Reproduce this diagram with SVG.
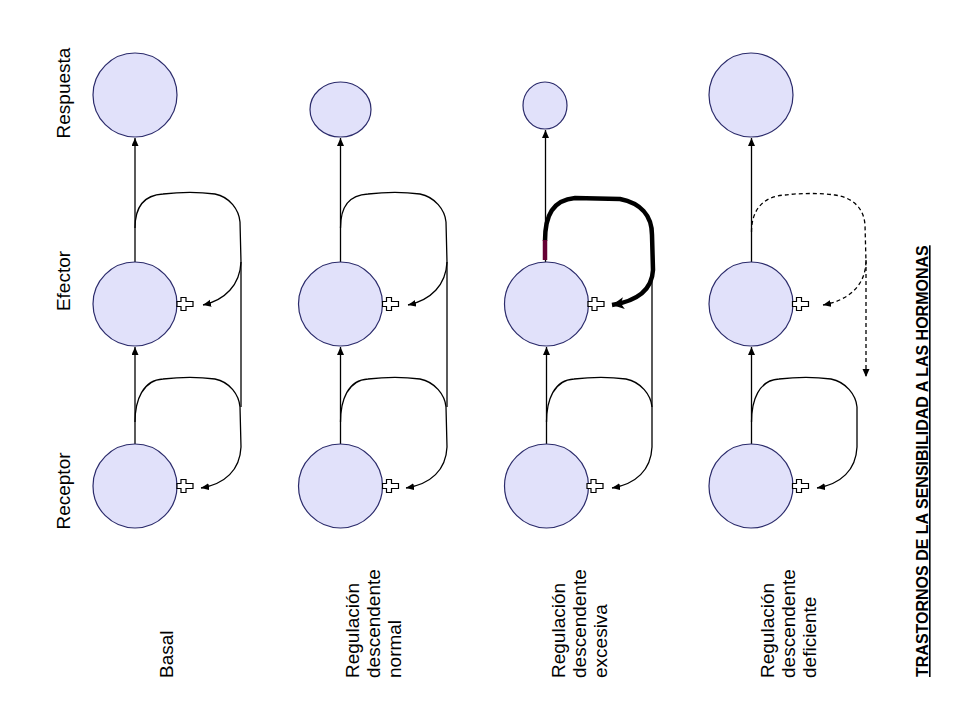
<svg xmlns="http://www.w3.org/2000/svg" width="960" height="720" viewBox="0 0 960 720">
<style>
.node{fill:#E1E1FA;stroke:#2B2B6B;stroke-width:1.2}
.lbl{font-family:"Liberation Sans",Arial,sans-serif;font-size:19px;fill:#000}
.title{font-family:"Liberation Sans",Arial,sans-serif;font-size:16px;font-weight:bold;fill:#000;text-decoration:underline}
.ln{fill:none;stroke:#000;stroke-width:1.3}
.dash{fill:none;stroke:#000;stroke-width:1.3;stroke-dasharray:4,3}
.thick{fill:none;stroke:#000;stroke-width:4.5;stroke-linejoin:round}
.plus{fill:#fff;stroke:#000;stroke-width:1.2}
</style>
<defs>
<marker id="ah" markerUnits="userSpaceOnUse" markerWidth="9" markerHeight="8" refX="8" refY="3.5" orient="auto">
<path d="M0,0 L8,3.5 L0,7 Z" fill="#000"/>
</marker>
<marker id="ahb" markerUnits="userSpaceOnUse" markerWidth="14" markerHeight="14" refX="12" refY="6" orient="auto">
<path d="M0,0 L12,6 L0,12 L3,6 Z" fill="#000"/>
</marker>
<path id="plusShape" d="M-2.5,-6.5 H2.5 V-2.5 H9.5 V2.5 H2.5 V6.5 H-2.5 V2.5 H-6.5 V-2.5 H-2.5 Z"/>
</defs>
<rect width="960" height="720" fill="#fff"/>

<g id="labels-axis">
<text class="lbl" text-anchor="middle" transform="translate(70,93) rotate(-90)">Respuesta</text>
<text class="lbl" text-anchor="middle" transform="translate(70,281) rotate(-90)">Efector</text>
<text class="lbl" text-anchor="middle" transform="translate(70,491) rotate(-90)">Receptor</text>
</g>

<g id="connectors">
<!-- column 1 -->
<path class="ln" d="M135,262 V138" marker-end="url(#ah)"/>
<path class="ln" d="M135,444 V347" marker-end="url(#ah)"/>
<path class="ln" d="M135,228 C135,205 145,195 163,194 C180,192 200,192 215,194 C230,197 239,210 240,222 L241,262 C240,285 225,300 203,305" marker-end="url(#ah)"/>
<path class="ln" d="M135,422 C135,400 143,380 163,379 C180,377 200,377 215,379 C230,382 239,395 240,407 L241,447 C240,470 225,484 201,488" marker-end="url(#ah)"/>
<path class="ln" d="M241,262 V407"/>
<!-- column 2 -->
<path class="ln" d="M340.5,262 V138" marker-end="url(#ah)"/>
<path class="ln" d="M340.5,444 V347" marker-end="url(#ah)"/>
<path class="ln" d="M340.5,228 C340.5,205 350,195 368,194 C385,192 405,192 420,194 C435,197 445,210 446,222 L447,262 C446,285 431,300 408,305" marker-end="url(#ah)"/>
<path class="ln" d="M340.5,422 C340.5,400 348,380 368,379 C385,377 405,377 420,379 C435,382 445,395 446,407 L447,447 C446,470 431,484 406,488" marker-end="url(#ah)"/>
<path class="ln" d="M447,262 V407"/>
<!-- column 3 -->
<path class="ln" d="M545.5,262 V130" marker-end="url(#ah)"/>
<path class="ln" d="M546.5,444 V347" marker-end="url(#ah)"/>
<path class="thick" d="M545,241 C545,215 553,200 575,198 L620,199 C640,203 652,215 652,235 L653,270 C652,290 637,301 612,305" marker-end="url(#ahb)"/>
<path d="M545,260 V240" stroke="#660033" stroke-width="4.5" fill="none"/>
<path class="ln" d="M546.5,422 C546.5,400 554,380 574,379 C591,377 611,377 626,379 C641,382 651,395 652,407 L652,447 C651,470 636,484 612,488" marker-end="url(#ah)"/>
<path class="ln" d="M652,272 V407"/>
<!-- column 4 -->
<path class="ln" d="M751.5,262 V138" marker-end="url(#ah)"/>
<path class="ln" d="M751.5,444 V347" marker-end="url(#ah)"/>
<path class="dash" d="M751.5,232 C751.5,208 765,196 785,195 C800,193 820,193 835,195 C855,198 864,210 865,225 L866,262 C865,285 850,300 823,305" marker-end="url(#ah)"/>
<path class="dash" d="M866,260 V377" marker-end="url(#ah)"/>
<path class="ln" d="M751.5,422 C751.5,400 759,380 779,379 C796,377 816,377 831,379 C846,382 856,395 857,407 L857,447 C856,470 841,484 817,488" marker-end="url(#ah)"/>
</g>

<g id="col1-respuesta"><circle class="node" cx="135" cy="95" r="42"/></g>
<g id="col1-efector"><circle class="node" cx="135" cy="304" r="42"/><use href="#plusShape" class="plus" transform="translate(183.5,304)"/></g>
<g id="col1-receptor"><circle class="node" cx="135" cy="486" r="42"/><use href="#plusShape" class="plus" transform="translate(183.5,486)"/></g>

<g id="col2-respuesta"><ellipse class="node" cx="340.5" cy="109.5" rx="30.5" ry="27.5"/></g>
<g id="col2-efector"><circle class="node" cx="340.5" cy="304" r="42"/><use href="#plusShape" class="plus" transform="translate(389,304)"/></g>
<g id="col2-receptor"><circle class="node" cx="340.5" cy="486" r="42"/><use href="#plusShape" class="plus" transform="translate(389,486)"/></g>

<g id="col3-respuesta"><ellipse class="node" cx="545" cy="105.5" rx="22" ry="23.5"/></g>
<g id="col3-efector"><circle class="node" cx="546.5" cy="304" r="42"/><use href="#plusShape" class="plus" transform="translate(594.5,304)"/></g>
<g id="col3-receptor"><circle class="node" cx="546.5" cy="486" r="42"/><use href="#plusShape" class="plus" transform="translate(593.5,486)"/></g>

<g id="col4-respuesta"><circle class="node" cx="751" cy="95" r="42"/></g>
<g id="col4-efector"><circle class="node" cx="751" cy="304" r="42"/><use href="#plusShape" class="plus" transform="translate(799,304)"/></g>
<g id="col4-receptor"><circle class="node" cx="751" cy="486" r="42"/><use href="#plusShape" class="plus" transform="translate(799,486)"/></g>

<g id="labels-bottom">
<text class="lbl" transform="translate(173,678) rotate(-90)">Basal</text>
<text class="lbl" transform="translate(359,678) rotate(-90)"><tspan x="0" y="0">Regulación</tspan><tspan x="0" dy="21">descendente</tspan><tspan x="0" dy="21">normal</tspan></text>
<text class="lbl" transform="translate(565,678) rotate(-90)"><tspan x="0" y="0">Regulación</tspan><tspan x="0" dy="21">descendente</tspan><tspan x="0" dy="21">excesiva</tspan></text>
<text class="lbl" transform="translate(774,678) rotate(-90)"><tspan x="0" y="0">Regulación</tspan><tspan x="0" dy="21">descendente</tspan><tspan x="0" dy="21">deficiente</tspan></text>
</g>

<g id="title">
<text class="title" transform="translate(928,677) rotate(-90)">TRASTORNOS DE LA SENSIBILIDAD A LAS HORMONAS</text>
</g>
</svg>
